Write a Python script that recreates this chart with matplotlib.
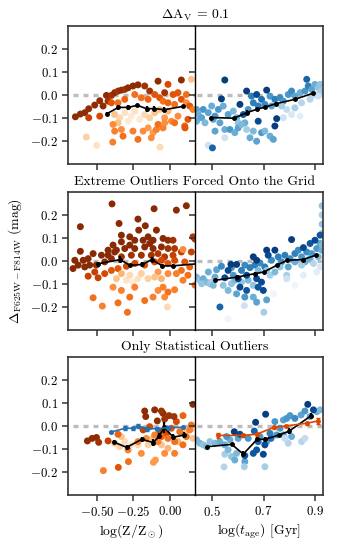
import numpy as np
import matplotlib
matplotlib.use('Agg')
import matplotlib.pyplot as plt

plt.rcParams.update({
    'font.family': 'serif',
    'font.serif': ['cmr10'],
    'mathtext.fontset': 'cm',
    'axes.formatter.use_mathtext': True,
    'font.size': 9.9,
    'xtick.labelsize': 9.3,
    'ytick.labelsize': 9.3,
    'axes.linewidth': 1.2,
    'axes.edgecolor': '#333333',
    'xtick.color': '#333333',
    'ytick.color': '#333333',
    'xtick.labelcolor': 'black',
    'ytick.labelcolor': 'black',
    'xtick.major.size': 4,
    'ytick.major.size': 4,
    'xtick.major.width': 1.1,
    'ytick.major.width': 1.1,
})

# scatter points (x, delta colour, shade 0..1)
# row 1: Delta A_V = 0.1
tl_pts = [
    (-0.646, -0.093, 0.95), (-0.612, -0.081, 0.95), (-0.582, -0.075, 0.95), (-0.555, -0.097, 0.8),
    (-0.555, -0.058, 0.95), (-0.514, -0.042, 0.95), (-0.480, -0.023, 0.95), (-0.457, -0.046, 0.95),
    (-0.480, -0.090, 0.75), (-0.434, 0.000, 0.95), (-0.423, -0.025, 0.9), (-0.400, 0.000, 0.9),
    (-0.378, 0.012, 0.95), (-0.355, 0.019, 0.9), (-0.332, 0.023, 0.95), (-0.309, 0.026, 0.9),
    (-0.287, 0.033, 0.95), (-0.253, 0.041, 0.95), (-0.219, 0.046, 0.95), (-0.173, 0.041, 0.9),
    (-0.139, 0.019, 0.9), (-0.082, 0.062, 0.95), (-0.037, 0.012, 0.9), (0.077, 0.067, 0.95),
    (-0.014, 0.048, 0.75), (0.020, 0.004, 0.7), (0.054, 0.012, 0.7), (0.111, 0.004, 0.6),
    (0.145, 0.070, 0.3),
    (-0.400, -0.032, 0.7), (-0.355, -0.032, 0.6), (-0.309, -0.017, 0.65), (-0.241, 0.004, 0.6),
    (-0.196, -0.010, 0.6), (-0.150, -0.017, 0.65), (-0.105, 0.004, 0.7), (-0.071, -0.010, 0.7),
    (-0.048, -0.025, 0.6), (-0.014, -0.032, 0.65), (0.031, -0.039, 0.6), (0.077, -0.017, 0.7),
    (0.111, -0.032, 0.5), (0.134, -0.046, 0.7), (0.156, -0.061, 0.55),
    (-0.378, -0.083, 0.3), (-0.343, -0.097, 0.2), (-0.309, -0.075, 0.15), (-0.264, -0.090, 0.1),
    (-0.241, -0.068, 0.15), (-0.207, -0.104, 0.1), (-0.173, -0.083, 0.2), (-0.139, -0.097, 0.25),
    (-0.287, -0.112, 0.1), (-0.355, -0.119, 0.3), (-0.105, -0.075, 0.3), (-0.071, -0.061, 0.3),
    (-0.037, -0.097, 0.45), (0.009, -0.112, 0.5), (0.054, -0.090, 0.5), (-0.014, -0.068, 0.35),
    (-0.389, -0.126, 0.5), (-0.332, -0.148, 0.5), (-0.378, -0.155, 0.55), (-0.321, -0.177, 0.6),
    (-0.253, -0.155, 0.55), (-0.219, -0.191, 0.6), (-0.184, -0.155, 0.5), (-0.150, -0.141, 0.45),
    (-0.116, -0.162, 0.45), (-0.093, -0.148, 0.55), (-0.082, -0.126, 0.6), (-0.048, -0.141, 0.55),
    (-0.037, -0.119, 0.5), (0.031, -0.119, 0.6), (0.100, -0.133, 0.65), (0.122, -0.104, 0.7),
    (-0.391, -0.203, 0.55), (-0.571, -0.181, 0.25), (-0.500, -0.217, 0.15), (-0.069, -0.225, 0.2),
    (-0.128, -0.184, 0.5), (0.102, -0.141, 0.7),
]
tr_pts = [
    (0.439, -0.061, 0.55), (0.446, -0.083, 0.5), (0.439, -0.112, 0.5), (0.459, -0.097, 0.55),
    (0.465, -0.061, 0.6), (0.472, -0.119, 0.45), (0.485, -0.075, 0.55), (0.498, -0.046, 0.5),
    (0.504, -0.104, 0.55), (0.511, -0.090, 0.6),
    (0.524, -0.061, 0.6), (0.543, -0.046, 0.5), (0.562, -0.083, 0.55), (0.582, -0.068, 0.45),
    (0.595, -0.097, 0.5), (0.601, -0.119, 0.4), (0.627, -0.119, 0.5), (0.640, -0.061, 0.6),
    (0.660, -0.032, 0.7), (0.653, -0.003, 0.7), (0.679, -0.046, 0.7), (0.692, -0.017, 0.75),
    (0.705, -0.039, 0.65), (0.725, -0.003, 0.6), (0.731, -0.046, 0.55), (0.744, -0.017, 0.7),
    (0.764, -0.010, 0.65), (0.777, -0.025, 0.6), (0.796, 0.004, 0.6), (0.809, 0.019, 0.65),
    (0.822, -0.003, 0.55), (0.842, 0.012, 0.5), (0.861, 0.019, 0.6), (0.874, 0.041, 0.7),
    (0.887, 0.026, 0.55), (0.900, 0.048, 0.5), (0.913, 0.033, 0.4), (0.920, 0.012, 0.3),
    (0.900, 0.004, 0.3), (0.848, -0.032, 0.3), (0.822, -0.054, 0.35), (0.790, -0.061, 0.25),
    (0.770, -0.046, 0.35), (0.777, -0.097, 0.2), (0.809, -0.083, 0.15), (0.842, -0.090, 0.1),
    (0.511, -0.155, 0.55), (0.530, -0.119, 0.55), (0.549, -0.148, 0.5), (0.569, -0.148, 0.6),
    (0.588, -0.162, 0.5), (0.601, -0.141, 0.55), (0.614, -0.126, 0.45), (0.634, -0.148, 0.35),
    (0.647, -0.184, 0.5), (0.660, -0.155, 0.45), (0.673, -0.199, 0.55), (0.692, -0.162, 0.6),
    (0.705, -0.155, 0.45), (0.725, -0.177, 0.5), (0.738, -0.191, 0.55), (0.549, -0.184, 0.2),
    (0.485, -0.217, 0.2),
    (0.920, 0.048, 0.4), (0.926, 0.019, 0.35), (0.913, -0.003, 0.2), (0.881, -0.017, 0.3),
    (0.549, 0.067, 0.95), (0.536, -0.015, 0.95), (0.608, -0.039, 0.95), (0.634, 0.019, 0.95),
    (0.712, 0.023, 0.95), (0.673, 0.004, 0.9), (0.679, -0.112, 0.9), (0.751, -0.101, 0.95),
    (0.744, -0.133, 0.95), (0.868, 0.070, 0.8), (0.501, -0.228, 0.8), (0.621, -0.083, 0.85),
]

# row 2: extreme outliers forced onto the grid
ml_pts = [
    (-0.396, 0.248, 0.97), (-0.612, 0.149, 0.97), (-0.348, 0.163, 0.97), (-0.219, 0.182, 0.97),
    (-0.169, 0.153, 0.97), (-0.109, 0.227, 0.97), (0.043, 0.221, 0.97), (0.111, 0.240, 0.97),
    (-0.214, 0.134, 0.97), (-0.093, 0.134, 0.97), (-0.332, 0.112, 0.97), (-0.332, 0.083, 0.97),
    (-0.275, 0.105, 0.97), (-0.275, 0.069, 0.97), (-0.241, 0.090, 0.97), (-0.184, 0.090, 0.97),
    (-0.150, 0.105, 0.97), (-0.139, 0.076, 0.97), (-0.116, 0.090, 0.97), (-0.048, 0.098, 0.97),
    (-0.014, 0.090, 0.95), (0.020, 0.090, 0.9), (-0.389, 0.069, 0.97), (-0.423, 0.047, 0.97),
    (-0.366, 0.047, 0.97), (-0.309, 0.054, 0.97), (-0.241, 0.054, 0.97), (-0.173, 0.061, 0.97),
    (-0.116, 0.054, 0.95), (-0.059, 0.061, 0.95), (-0.014, 0.054, 0.9), (0.031, 0.054, 0.85),
    (-0.612, 0.042, 0.97), (-0.525, 0.032, 0.97), (-0.468, 0.025, 0.97), (-0.423, 0.025, 0.97),
    (-0.378, 0.039, 0.97), (-0.559, 0.010, 0.97), (-0.650, 0.003, 0.97), (-0.593, 0.003, 0.97),
    (-0.627, -0.018, 0.97), (-0.662, -0.033, 0.97), (-0.582, -0.026, 0.97), (-0.548, -0.018, 0.97),
    (-0.503, -0.018, 0.95), (-0.446, -0.004, 0.95), (-0.400, 0.010, 0.95), (-0.332, 0.018, 0.9),
    (-0.264, 0.025, 0.9), (-0.196, 0.025, 0.9), (-0.128, 0.025, 0.9), (-0.082, 0.032, 0.85),
    (-0.037, 0.018, 0.85), (0.020, 0.025, 0.8), (0.077, 0.039, 0.8), (0.145, 0.039, 0.8),
    (0.156, 0.105, 0.85), (0.170, 0.095, 0.85),
    (-0.559, -0.066, 0.8), (-0.491, -0.073, 0.8), (-0.514, -0.048, 0.8), (-0.446, -0.055, 0.75),
    (-0.400, -0.041, 0.7), (-0.355, -0.033, 0.7), (-0.298, -0.023, 0.75), (-0.241, -0.011, 0.75),
    (-0.173, -0.018, 0.7), (-0.105, -0.004, 0.75), (-0.059, 0.003, 0.75), (-0.014, -0.011, 0.7),
    (0.031, 0.003, 0.75), (0.088, 0.050, 0.5), (0.100, -0.004, 0.7), (0.134, -0.026, 0.65),
    (0.077, -0.041, 0.6), (0.043, -0.055, 0.55), (-0.014, -0.055, 0.5), (-0.082, -0.048, 0.45),
    (-0.366, -0.077, 0.3), (-0.332, -0.055, 0.35), (-0.298, -0.084, 0.15), (-0.275, -0.062, 0.2),
    (-0.253, -0.092, 0.1), (-0.219, -0.077, 0.15), (-0.196, -0.055, 0.25), (-0.150, -0.077, 0.25),
    (-0.105, -0.070, 0.3), (-0.059, -0.077, 0.35),
    (-0.389, -0.114, 0.5), (-0.332, -0.128, 0.55), (-0.275, -0.157, 0.6), (-0.241, -0.114, 0.55),
    (-0.173, -0.172, 0.6), (-0.116, -0.157, 0.55), (-0.082, -0.128, 0.5), (-0.048, -0.114, 0.55),
    (-0.014, -0.135, 0.6), (0.031, -0.125, 0.55), (0.088, -0.084, 0.55), (0.122, -0.062, 0.6),
    (-0.037, -0.157, 0.5), (-0.525, -0.160, 0.6), (-0.462, -0.196, 0.55), (-0.355, -0.182, 0.6),
    (-0.291, -0.223, 0.6), (-0.018, -0.200, 0.2), (0.170, -0.105, 0.6),
]
mr_pts = [
    (0.439, -0.070, 0.45), (0.452, -0.084, 0.4), (0.465, -0.077, 0.5), (0.478, -0.092, 0.45),
    (0.491, -0.099, 0.4), (0.485, -0.048, 0.5), (0.511, -0.070, 0.5), (0.517, -0.038, 0.55),
    (0.498, -0.092, 0.35), (0.459, -0.099, 0.4), (0.504, -0.106, 0.45),
    (0.536, -0.023, 0.65), (0.575, -0.029, 0.6), (0.582, -0.062, 0.6), (0.614, -0.041, 0.7),
    (0.627, -0.018, 0.65), (0.647, -0.029, 0.7), (0.666, -0.018, 0.7), (0.686, -0.009, 0.65),
    (0.705, -0.026, 0.7), (0.731, 0.003, 0.65), (0.757, 0.018, 0.7), (0.770, -0.004, 0.65),
    (0.783, 0.025, 0.7), (0.803, 0.010, 0.65), (0.822, 0.032, 0.7), (0.835, 0.047, 0.65),
    (0.848, 0.018, 0.6), (0.868, 0.039, 0.65), (0.887, 0.032, 0.6), (0.907, 0.054, 0.6),
    (0.920, 0.076, 0.55), (0.926, 0.047, 0.5), (0.913, 0.018, 0.45), (0.881, 0.010, 0.5),
    (0.861, -0.004, 0.5), (0.822, -0.004, 0.5), (0.796, -0.026, 0.55),
    (0.543, -0.106, 0.4), (0.562, -0.128, 0.45), (0.575, -0.099, 0.4), (0.588, -0.084, 0.45),
    (0.614, -0.092, 0.4), (0.640, -0.084, 0.45), (0.660, -0.106, 0.4), (0.679, -0.041, 0.45),
    (0.712, -0.041, 0.4), (0.725, -0.062, 0.35), (0.744, -0.048, 0.45), (0.764, -0.026, 0.4),
    (0.790, -0.062, 0.35), (0.848, -0.018, 0.35), (0.894, -0.011, 0.3),
    (0.595, -0.143, 0.55), (0.627, -0.157, 0.6), (0.660, -0.157, 0.5), (0.673, -0.179, 0.55),
    (0.712, -0.169, 0.55), (0.701, -0.223, 0.35), (0.625, -0.194, 0.2), (0.790, -0.077, 0.2),
    (0.738, -0.143, 0.05), (0.562, -0.252, 0.05), (0.822, -0.106, 0.05), (0.920, -0.026, 0.15),
    (0.907, -0.048, 0.1), (0.855, -0.062, 0.1),
    (0.928, 0.240, 0.4), (0.928, 0.200, 0.35), (0.928, 0.160, 0.4), (0.928, 0.120, 0.4),
    (0.928, 0.070, 0.45),
    (0.573, -0.015, 0.95), (0.595, -0.015, 0.95), (0.562, -0.041, 0.9), (0.549, -0.073, 0.9),
    (0.601, -0.077, 0.95), (0.634, -0.062, 0.9), (0.660, 0.018, 0.95), (0.673, 0.003, 0.95),
    (0.712, 0.047, 0.95), (0.744, 0.047, 0.95), (0.718, 0.025, 0.9), (0.809, 0.093, 0.95),
    (0.855, 0.058, 0.9), (0.881, 0.076, 0.85), (0.900, 0.090, 0.9), (0.920, 0.112, 0.85),
    (0.608, -0.114, 0.9), (0.634, -0.128, 0.85), (0.673, -0.077, 0.9), (0.692, -0.092, 0.9),
    (0.679, -0.114, 0.85), (0.699, -0.128, 0.9), (0.530, -0.200, 0.8),
]

# row 3: only statistical outliers
bl_pts = [
    (-0.378, -0.075, 0.3), (-0.309, -0.068, 0.2), (-0.264, -0.082, 0.15), (-0.219, -0.082, 0.2),
    (-0.343, -0.090, 0.25), (-0.150, -0.082, 0.25), (-0.116, -0.054, 0.3), (-0.059, -0.082, 0.3),
    (-0.014, -0.097, 0.35), (0.054, -0.068, 0.35), (0.100, -0.025, 0.3), (0.156, -0.010, 0.25),
    (0.156, -0.054, 0.3), (-0.332, -0.046, 0.3),
    (-0.184, -0.017, 0.8), (-0.139, -0.003, 0.75), (-0.071, -0.025, 0.8), (-0.025, -0.032, 0.75),
    (0.009, -0.010, 0.7), (0.043, 0.019, 0.75), (0.088, 0.045, 0.65), (0.066, -0.025, 0.6),
    (0.111, -0.046, 0.6), (0.134, -0.017, 0.55), (0.145, 0.004, 0.6), (0.088, -0.082, 0.6),
    (0.031, -0.068, 0.6), (-0.014, -0.054, 0.6), (-0.059, -0.046, 0.65), (-0.082, -0.068, 0.55),
    (-0.423, -0.065, 0.8), (-0.355, -0.036, 0.65), (-0.219, -0.068, 0.55), (-0.162, -0.054, 0.5),
    (-0.105, -0.039, 0.55), (-0.287, -0.104, 0.55), (-0.196, -0.119, 0.5), (-0.100, -0.148, 0.45),
    (-0.037, -0.119, 0.5), (0.031, -0.119, 0.55), (-0.455, -0.194, 0.55), (-0.353, -0.180, 0.7),
    (-0.284, -0.155, 0.6), (-0.114, -0.158, 0.45),
    (-0.564, -0.065, 0.95), (-0.532, -0.054, 0.95), (-0.502, -0.050, 0.95), (-0.487, -0.071, 0.9),
    (-0.173, 0.065, 0.95), (-0.105, 0.070, 0.95), (-0.166, 0.041, 0.95), (-0.087, 0.022, 0.95),
    (-0.048, 0.055, 0.95), (-0.037, 0.030, 0.9), (-0.007, 0.045, 0.9), (0.027, 0.041, 0.9),
    (0.156, 0.094, 0.95), (-0.059, 0.065, 0.9),
]
br_pts = [
    (0.439, -0.060, 0.45), (0.452, -0.075, 0.45), (0.465, -0.082, 0.4), (0.478, -0.090, 0.45),
    (0.491, -0.068, 0.4), (0.511, -0.075, 0.45), (0.530, -0.068, 0.5), (0.549, -0.082, 0.5),
    (0.569, -0.060, 0.5), (0.549, -0.123, 0.35), (0.575, -0.133, 0.4), (0.595, -0.119, 0.45),
    (0.562, -0.104, 0.45), (0.588, -0.148, 0.5), (0.627, -0.155, 0.55), (0.625, -0.177, 0.35),
    (0.705, -0.177, 0.35), (0.546, -0.178, 0.3),
    (0.556, -0.046, 0.6), (0.601, -0.054, 0.55), (0.640, -0.054, 0.6), (0.686, -0.046, 0.6),
    (0.725, -0.032, 0.7), (0.744, 0.019, 0.6), (0.764, -0.010, 0.6), (0.777, 0.026, 0.55),
    (0.790, 0.033, 0.6), (0.803, 0.045, 0.6), (0.822, 0.033, 0.65), (0.846, 0.048, 0.55),
    (0.861, 0.065, 0.6), (0.881, 0.041, 0.55), (0.907, 0.062, 0.5), (0.920, 0.070, 0.45),
    (0.777, -0.039, 0.55), (0.809, -0.046, 0.5), (0.751, -0.039, 0.6), (0.712, -0.068, 0.55),
    (0.848, -0.068, 0.3), (0.861, -0.054, 0.25), (0.796, -0.075, 0.3), (0.783, -0.054, 0.25),
    (0.586, -0.025, 0.95), (0.608, -0.036, 0.9), (0.669, 0.016, 0.95), (0.708, 0.051, 0.95),
    (0.664, -0.022, 0.8), (0.673, -0.104, 0.85), (0.705, -0.082, 0.9), (0.699, -0.123, 0.9),
    (0.627, -0.129, 0.85), (0.660, -0.119, 0.85), (0.872, 0.094, 0.95), (0.894, 0.070, 0.9),
    (0.679, -0.068, 0.8), (0.729, -0.054, 0.75),
]

# binned medians with errors
tl_bx = [-0.432, -0.353, -0.285, -0.223, -0.159, -0.107, -0.039, 0.086]
tl_by = [-0.080, -0.052, -0.052, -0.043, -0.058, -0.057, -0.062, -0.048]
tl_be = [0.006, 0.010, 0.010, 0.006, 0.012, 0.010, 0.010, 0.006]
tr_bx = [0.494, 0.585, 0.634, 0.675, 0.705, 0.748, 0.822, 0.891]
tr_by = [-0.096, -0.099, -0.075, -0.060, -0.051, -0.036, -0.017, 0.009]
tr_be = [0.004, 0.004, 0.010, 0.006, 0.006, 0.006, 0.004, 0.006]
ml_bx = [-0.489, -0.341, -0.273, -0.189, -0.125, -0.053, 0.022, 0.19]
ml_by = [-0.012, 0.006, -0.019, -0.015, 0.006, -0.021, -0.021, -0.012]
ml_be = [0.006, 0.014, 0.008, 0.010, 0.012, 0.008, 0.006, 0.006]
mr_bx = [0.511, 0.597, 0.666, 0.701, 0.751, 0.792, 0.852, 0.904]
mr_by = [-0.084, -0.070, -0.055, -0.048, -0.019, 0.003, 0.006, 0.025]
mr_be = [0.004, 0.008, 0.006, 0.006, 0.006, 0.004, 0.004, 0.006]
bl_bx = [-0.380, -0.296, -0.193, -0.114, -0.073, -0.041, 0.022, 0.097]
bl_by = [-0.071, -0.093, -0.058, -0.072, -0.043, -0.006, -0.049, -0.039]
bl_be = [0.008, 0.010, 0.010, 0.016, 0.012, 0.025, 0.014, 0.012]
bl_ox = [-0.400, -0.307, -0.250, -0.216, -0.159, -0.091, -0.012, 0.086]
bl_oy = [-0.026, -0.010, -0.010, 0.000, -0.012, -0.012, -0.007, -0.006]
bl_oe = [0.004, 0.008, 0.006, 0.010, 0.008, 0.006, 0.006, 0.004]
br_bx = [0.481, 0.576, 0.621, 0.675, 0.705, 0.761, 0.800, 0.883]
br_by = [-0.090, -0.080, -0.122, -0.058, -0.058, -0.039, -0.022, 0.043]
br_be = [0.004, 0.004, 0.014, 0.008, 0.012, 0.006, 0.012, 0.012]
br_ox = [0.523, 0.618, 0.673, 0.740, 0.787, 0.868, 0.913]
br_oy = [-0.041, -0.041, -0.036, -0.006, 0.000, 0.012, 0.022]
br_oe = [0.012, 0.006, 0.006, 0.006, 0.006, 0.006, 0.012]

titles = [r'$\Delta\mathrm{A_V}$ = 0.1', 'Extreme Outliers Forced Onto the Grid',
          'Only Statistical Outliers']

fig = plt.figure(figsize=(3.4, 5.5), dpi=100)

rows = [
    (0.701, tl_pts, tr_pts, (tl_bx, tl_by, tl_be), (tr_bx, tr_by, tr_be)),
    (0.400, ml_pts, mr_pts, (ml_bx, ml_by, ml_be), (mr_bx, mr_by, mr_be)),
    (0.100, bl_pts, br_pts, (bl_bx, bl_by, bl_be), (br_bx, br_by, br_be)),
]


def binline(ax, bx, by, be, color, cap=0):
    ax.errorbar(bx, by, yerr=be, color=color, marker='o', ms=2.5, lw=1.2,
                elinewidth=1.6, capsize=cap, capthick=1.0, zorder=5)


for i, (bottom, lpts, rpts, lbin, rbin) in enumerate(rows):
    axl = fig.add_axes([0.201, bottom, 0.3725, 0.251])
    axr = fig.add_axes([0.5735, bottom, 0.3755, 0.251], sharey=axl)

    axl.plot([-0.66, 0.2], [0, 0], color='#bdbdbd', lw=2.4, dashes=(1.5, 1.5), zorder=1)
    axr.plot([0.44, 0.95], [0, 0], color='#bdbdbd', lw=2.4, dashes=(1.5, 1.5), zorder=1)

    x, y, c = zip(*lpts)
    axl.scatter(x, y, c=c, cmap='Oranges', vmin=0, vmax=1, s=25, linewidths=0, zorder=2)
    x, y, c = zip(*rpts)
    axr.scatter(x, y, c=c, cmap='Blues', vmin=0, vmax=1, s=25, linewidths=0, zorder=2)

    binline(axl, *lbin, 'black')
    binline(axr, *rbin, 'black')
    if i == 2:
        binline(axl, bl_ox, bl_oy, bl_oe, '#2171b5', cap=1.5)
        binline(axr, br_ox, br_oy, br_oe, '#d94801', cap=1.5)

    axl.set_xlim(-0.694, 0.17)
    axr.set_xlim(0.433, 0.93)
    axl.set_ylim(-0.3, 0.3)
    axl.set_yticks([-0.2, -0.1, 0.0, 0.1, 0.2])
    axl.set_xticks([-0.5, -0.25, 0.0])
    axr.set_xticks([0.5, 0.7, 0.9])
    axr.tick_params(labelleft=False)
    axl.spines['right'].set_visible(False)
    axr.spines['left'].set_color('black')
    axr.spines['left'].set_linewidth(1.0)
    axr.spines['left'].set_zorder(6)
    if i < 2:
        axl.tick_params(labelbottom=False)
        axr.tick_params(labelbottom=False)
    else:
        axl.set_xlabel(r'log(Z/Z$_\odot$)', labelpad=2)
        axr.set_xlabel(r'log($t_{\rm age}$) [Gyr]', labelpad=2)

    fig.text(0.5735, bottom + 0.251 + 0.007, titles[i], ha='center', va='bottom')

fig.text(0.045, 0.525, r'$\Delta_{\rm F625W-F814W}$ (mag)', rotation=90,
         ha='center', va='center')

fig.savefig('out.png', dpi=100)
